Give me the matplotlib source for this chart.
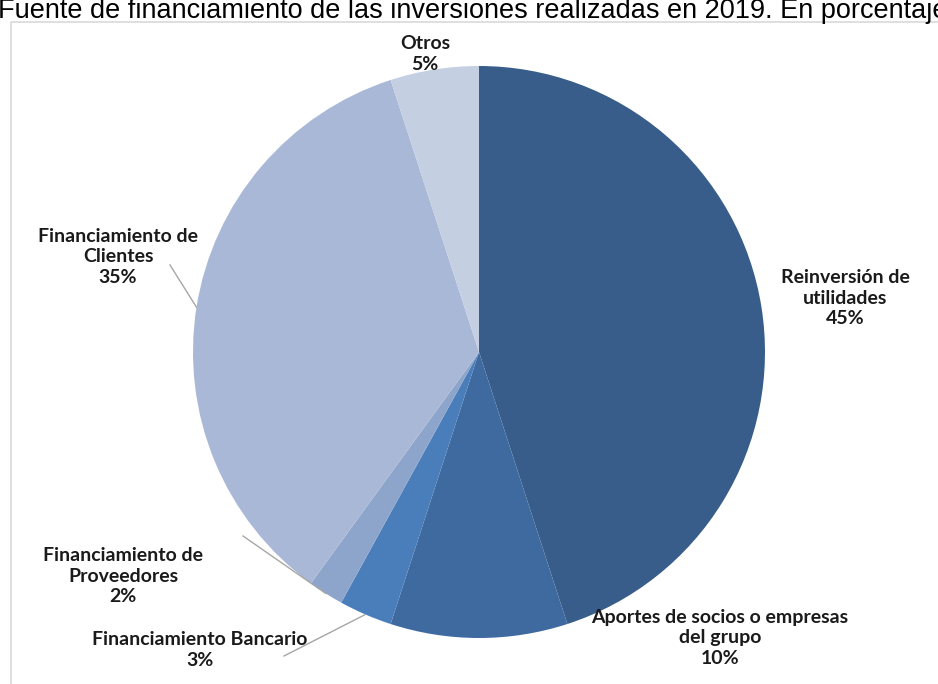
import matplotlib.pyplot as plt
import numpy as np

labels = ["Reinversión de\nutilidades", "Aportes de socios o empresas\ndel grupo",
          "Financiamiento Bancario", "Financiamiento de\nProveedores",
          "Financiamiento de\nClientes", "Otros"]
values = [45, 10, 3, 2, 35, 5]
colors = ["#385d8a", "#3e6a9f", "#4a7ebb", "#8ea5cb", "#a9b8d6", "#c5cfe2"]

W, H = 938, 684
fig = plt.figure(figsize=(W / 100, H / 100), dpi=100)
ax = fig.add_axes([0, 0, 1, 1])

# chart frame
ax.plot([11, 11, W + 5], [-5, H - 22, H - 22], color="#d9d9d9", lw=1.2)

cx, cy, r = 479, H - 352, 286
wedges, _ = ax.pie(values, colors=colors, startangle=90, counterclock=False,
                   center=(cx, cy), radius=r, frame=True,
                   wedgeprops=dict(linewidth=0))
ax.set_xlim(0, W)
ax.set_ylim(0, H)
ax.set_aspect("equal")
ax.axis("off")

# label centres (pixel coords from top) and leader lines
label_pos = [(845, 298), (720, 638), (200, 650), (123, 576), (118, 257), (425, 54)]
leaders = {4: (170, 265), 3: (243, 536), 2: (284, 656)}

for i, (w, lab, v) in enumerate(zip(wedges, labels, values)):
    x, y = label_pos[i]
    ax.text(x, H - y, f"{lab}\n{v}%", ha="center", va="center",
            fontsize=14, fontweight="bold", family="Lato", color="#1a1a1a",
            linespacing=1.25)
    if i in leaders:
        mid = np.deg2rad((w.theta1 + w.theta2) / 2)
        ex, ey = cx + r * np.cos(mid), cy + r * np.sin(mid)
        lx, ly = leaders[i]
        ax.plot([lx, ex], [H - ly, ey], color="#a6a6a6", lw=1)

fig.text(-2 / W, 1 - 18 / H, "Fuente de financiamiento de las inversiones realizadas en 2019. En porcentaje",
         ha="left", va="baseline", fontsize=19.5, family="Liberation Sans", color="#000000")

fig.savefig("out.png", dpi=100)
